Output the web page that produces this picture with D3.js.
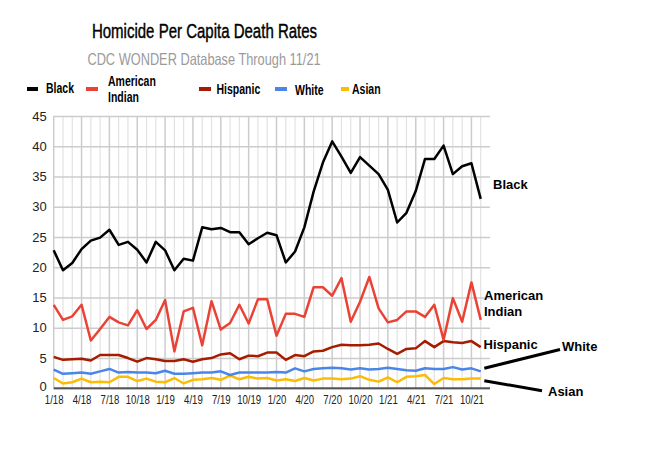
<!DOCTYPE html>
<html><head><meta charset="utf-8">
<script src="https://cdn.jsdelivr.net/npm/d3@7"></script>
<style>
html,body{margin:0;padding:0;background:#fff;}
svg{display:block;}
text{font-family:"Liberation Sans",Arial,sans-serif;}
</style></head>
<body>
<script>
const months = ["1/18","2/18","3/18","4/18","5/18","6/18","7/18","8/18","9/18","10/18","11/18","12/18",
"1/19","2/19","3/19","4/19","5/19","6/19","7/19","8/19","9/19","10/19","11/19","12/19",
"1/20","2/20","3/20","4/20","5/20","6/20","7/20","8/20","9/20","10/20","11/20","12/20",
"1/21","2/21","3/21","4/21","5/21","6/21","7/21","8/21","9/21","10/21","11/21"];
const black = [22.8,19.5,20.7,23.0,24.4,24.9,26.2,23.7,24.2,22.9,20.8,24.2,22.8,19.5,21.4,21.1,26.6,26.3,26.5,25.8,25.8,23.8,24.8,25.7,25.3,20.8,22.6,26.6,32.5,37.3,40.8,38.3,35.6,38.2,36.8,35.4,32.8,27.4,29.0,32.6,37.9,37.9,40.1,35.4,36.7,37.2,31.3];
const americanIndian = [13.8,11.3,11.9,13.8,7.9,9.8,11.8,10.9,10.4,12.9,9.8,11.3,14.6,6.1,12.7,13.3,7.1,14.4,9.7,10.8,13.8,10.7,14.7,14.7,8.7,12.3,12.3,11.8,16.7,16.7,15.3,18.2,11.0,14.3,18.4,13.2,10.9,11.3,12.7,12.7,11.8,13.8,8.0,14.9,11.0,17.5,11.3];
const hispanic = [5.2,4.7,4.8,4.9,4.6,5.5,5.5,5.5,5.0,4.4,5.0,4.8,4.5,4.5,4.8,4.4,4.8,5.0,5.6,5.8,4.8,5.4,5.3,5.9,5.9,4.7,5.5,5.3,6.1,6.2,6.8,7.2,7.1,7.1,7.2,7.4,6.5,5.7,6.5,6.6,7.8,6.8,7.8,7.6,7.5,7.8,6.8];
const white = [3.1,2.4,2.5,2.6,2.4,2.8,3.2,2.6,2.7,2.6,2.6,2.5,2.9,2.4,2.4,2.5,2.6,2.6,2.8,2.2,2.6,2.6,2.6,2.6,2.7,2.6,3.3,2.8,3.2,3.3,3.4,3.3,3.1,3.3,3.1,3.2,3.4,3.2,3.0,2.9,3.3,3.2,3.2,3.5,3.1,3.3,2.8];
const asian = [1.7,0.8,1.0,1.6,1.0,1.1,1.0,1.9,1.9,1.2,1.6,1.1,1.0,1.7,0.8,1.4,1.5,1.7,1.4,2.1,1.5,1.9,1.6,1.7,1.3,1.5,1.2,1.7,1.3,1.6,1.6,1.5,1.6,2.0,1.4,1.1,1.8,1.0,1.9,2.0,2.2,0.7,1.7,1.5,1.5,1.6,1.6];
const seriesNames = ["Black","American Indian","Hispanic","White","Asian"];
const seriesColors = ["#000000","#ea4335","#a61c00","#4a86e8","#fbbc04"];
const xTickLabels = ["1/18","4/18","7/18","10/18","1/19","4/19","7/19","10/19","1/20","4/20","7/20","10/20","1/21","4/21","7/21","10/21"];
const yTicks = [0,5,10,15,20,25,30,35,40,45];

const W = 659, H = 453;
const svg = d3.select("body").append("svg").attr("width", W).attr("height", H);

const x = d3.scaleLinear().domain([0, months.length]).range([53.7, 490]);
const y = d3.scaleLinear().domain([0, 45]).range([388.3, 116]);
const idx = d3.range(months.length);

// squeezed text helper (narrow face emulation)
function sq(g, tx, ty, s, str, anchor) {
  return g.append("text")
    .attr("transform", `translate(${tx},${ty}) scale(${s},1)`)
    .attr("text-anchor", anchor || "start").text(str);
}

// vertical grid (monthly, quarter lines darker)
svg.append("g").selectAll("line").data(idx).join("line")
  .attr("x1", d => x(d)).attr("x2", d => x(d))
  .attr("y1", y(45)).attr("y2", y(0))
  .attr("stroke", d => d % 3 === 0 ? "#cccccc" : "#e2e2e2")
  .attr("stroke-width", d => d % 3 === 0 ? 1.5 : 1.2);

// horizontal grid + y labels via axis
const yAxis = svg.append("g").attr("transform", `translate(${x(0)},0)`)
  .call(d3.axisLeft(y).tickValues(yTicks).tickSize(-(x(months.length) - x(0))).tickPadding(7));
yAxis.select(".domain").remove();
yAxis.selectAll(".tick line").attr("stroke", "#cccccc").attr("stroke-width", 1.5);
yAxis.selectAll(".tick text").attr("font-size", 13).attr("fill", "#222")
  .attr("font-family", "'Liberation Sans', Arial, sans-serif");
yAxis.selectAll(".tick").filter(d => d === 0).select("text").attr("dy", "0.2em");

// x axis baseline + labels (axis draws the line; labels squeezed)
const xTickIdx = xTickLabels.map(l => months.indexOf(l));
const xAxis = svg.append("g").attr("transform", `translate(0,${y(0)})`)
  .call(d3.axisBottom(x).tickValues(xTickIdx).tickSize(0).tickFormat(""));
xAxis.select(".domain").attr("stroke", "#555").attr("stroke-width", 2)
  .attr("d", `M${x(0)},0H${x(months.length)}`);
const xl = svg.append("g").attr("font-size", 12).attr("fill", "#222");
xTickIdx.forEach((d, k) => sq(xl, x(d) + 0.5, 403.5, 0.8, xTickLabels[k], "middle"));

// lines
const seriesData = [black, americanIndian, hispanic, white, asian];
const line = d3.line().x((d, i) => x(i)).y(d => y(d));
[4, 3, 2, 1, 0].forEach(k => {
  svg.append("path").datum(seriesData[k]).attr("d", line)
    .attr("fill", "none").attr("stroke", seriesColors[k])
    .attr("stroke-width", 2.5).attr("stroke-linejoin", "round");
});

// title
const tg = svg.append("g").attr("font-size", 19.5).attr("fill", "#000")
  .attr("stroke", "#000").attr("stroke-width", 0.4);
sq(tg, 204.5, 37.5, 0.77, "Homicide Per Capita Death Rates", "middle");
const sg = svg.append("g").attr("font-size", 16.5).attr("fill", "#9a9a9a");
sq(sg, 204, 64.5, 0.775, "CDC WONDER Database Through 11/21", "middle");

// legend
const legendItems = [
  {sx: 27, sw: 11, tx: 46, lines: ["Black"], ty: 93},
  {sx: 86, sw: 12, tx: 108, lines: ["American", "Indian"], ty: 86},
  {sx: 199, sw: 12, tx: 216.5, lines: ["Hispanic"], ty: 94},
  {sx: 275, sw: 12, tx: 295, lines: ["White"], ty: 95},
  {sx: 341, sw: 8, tx: 352, lines: ["Asian"], ty: 94}
];
const lg = svg.append("g").attr("font-size", 14).attr("font-weight", "bold").attr("fill", "#000");
legendItems.forEach((it, k) => {
  lg.append("rect").attr("x", it.sx).attr("y", 87).attr("width", it.sw).attr("height", 4)
    .attr("fill", seriesColors[k]);
  it.lines.forEach((s, j) => sq(lg, it.tx, it.ty + j * 15.7, 0.75, s));
});

// right annotations
const ann = svg.append("g").attr("font-size", 13).attr("font-weight", "bold").attr("fill", "#000");
ann.append("text").attr("x", 493).attr("y", 189).text("Black");
ann.append("text").attr("x", 484).attr("y", 300).text("American");
ann.append("text").attr("x", 484).attr("y", 315.7).text("Indian");
ann.append("text").attr("x", 483.5).attr("y", 348.5).text("Hispanic");
ann.append("text").attr("x", 562).attr("y", 351).text("White");
ann.append("text").attr("x", 548).attr("y", 395.5).text("Asian");

// leader lines
svg.append("line").attr("x1", 484.3).attr("y1", 368.3).attr("x2", 560).attr("y2", 349.5)
  .attr("stroke", "#000").attr("stroke-width", 3);
svg.append("line").attr("x1", 484.3).attr("y1", 380.7).attr("x2", 542).attr("y2", 390.7)
  .attr("stroke", "#000").attr("stroke-width", 3);
</script>
</body></html>
